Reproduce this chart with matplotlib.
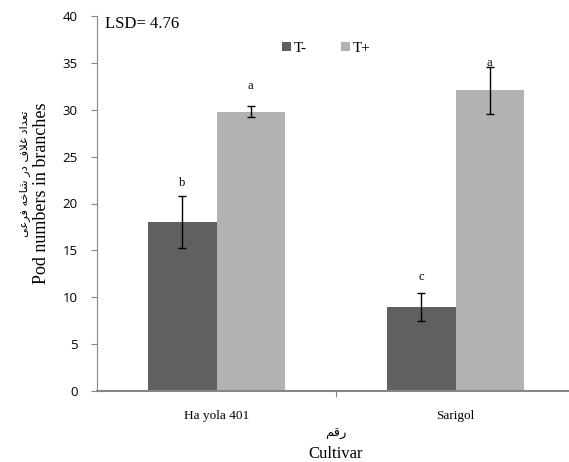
import numpy as np
import matplotlib.pyplot as plt

# data
cultivars = ["Ha yola 401", "Sarigol"]
t_minus = [18.0, 9.0]
t_plus = [29.8, 32.1]
err_minus = [2.75, 1.5]
err_plus = [0.6, 2.5]
letters_minus = ["b", "c"]
letters_plus = ["a", "a"]
letter_y_minus = [22.2, 12.2]
letter_y_plus = [32.5, 35.0]
series = ["T-", "T+"]

dark = "#606060"
light = "#b2b2b2"
axgray = "#868686"
serif = ["Liberation Serif", "DejaVu Serif"]

# arabic text given in presentation forms, visual order (matplotlib has no shaping)
fa_ylabel = ("\uFBFD\uFECB\uFEAE\uFED3 \uFEEA\uFEA7\uFE8E\uFEB7 \uFEAD\uFEA9 "
             "\uFED1\uFEFC\uFECF \uFEA9\uFE8D\uFEAA\uFECC\uFE97")
fa_xlabel = "\uFEE2\uFED7\uFEAD"

fig = plt.figure(figsize=(5.69, 4.62), dpi=100)
ax = fig.add_axes([97 / 569, 1 - 391 / 462, (575 - 97) / 569, (391 - 16) / 462])

x = np.arange(len(cultivars))
w = 0.285
ax.bar(x - w / 2, t_minus, w, color=dark, label=series[0])
ax.bar(x + w / 2, t_plus, w, color=light, label=series[1])
ax.errorbar(x - w / 2, t_minus, yerr=err_minus, fmt="none", ecolor="black",
            elinewidth=1, capsize=3, capthick=1)
ax.errorbar(x + w / 2, t_plus, yerr=err_plus, fmt="none", ecolor="black",
            elinewidth=1, capsize=3, capthick=1)
for i in range(len(cultivars)):
    ax.text(x[i] - w / 2, letter_y_minus[i], letters_minus[i], ha="center",
            va="center", fontsize=9, family=serif)
    ax.text(x[i] + w / 2, letter_y_plus[i], letters_plus[i], ha="center",
            va="center", fontsize=9, family=serif)

ax.set_xlim(-0.5, 1.5)
ax.set_ylim(0, 40)
ax.set_yticks(range(0, 41, 5))
ax.tick_params(axis="y", direction="out", length=4, color=axgray,
               labelsize=9.5, pad=10)
for lab in ax.get_yticklabels():
    lab.set_family("Open Sans")

ax.set_xticks([0.5])
ax.set_xticklabels([""])
ax.tick_params(axis="x", direction="out", length=4, color=axgray)
ax.set_xticks(x, minor=True)
ax.set_xticklabels(cultivars, minor=True, fontsize=9.5, family=serif)
ax.tick_params(axis="x", which="minor", length=0, pad=14)

for s in ["top", "right"]:
    ax.spines[s].set_visible(False)
ax.spines["left"].set_color(axgray)
ax.spines["bottom"].set_color(axgray)
ax.spines["bottom"].set_linewidth(1.5)

ax.text(105 / 569, 1 - 24 / 462, "LSD= 4.76", transform=fig.transFigure,
        fontsize=12, family=serif, va="center")

leg = ax.legend(loc="upper left", bbox_to_anchor=(268 / 569, 1 - 28 / 462),
                bbox_transform=fig.transFigure, ncol=2, frameon=False,
                prop={"family": serif, "size": 11}, handlelength=0.6,
                handleheight=0.6, handletextpad=0.2, columnspacing=2.2)

fig.text(25 / 569, 1 - 174 / 462, fa_ylabel, rotation=90, ha="center",
         va="center", fontsize=8.2, family="DejaVu Sans")
fig.text(42 / 569, 1 - 193 / 462, "Pod numbers in branches", rotation=90,
         ha="center", va="center", fontsize=13, family=serif)
fig.text(336 / 569, 1 - 433 / 462, fa_xlabel, ha="center", va="center",
         fontsize=9.5, family="DejaVu Sans")
fig.text(336 / 569, 1 - 454 / 462, "Cultivar", ha="center", va="center",
         fontsize=12, family=serif)

fig.savefig("out.png", dpi=100)
